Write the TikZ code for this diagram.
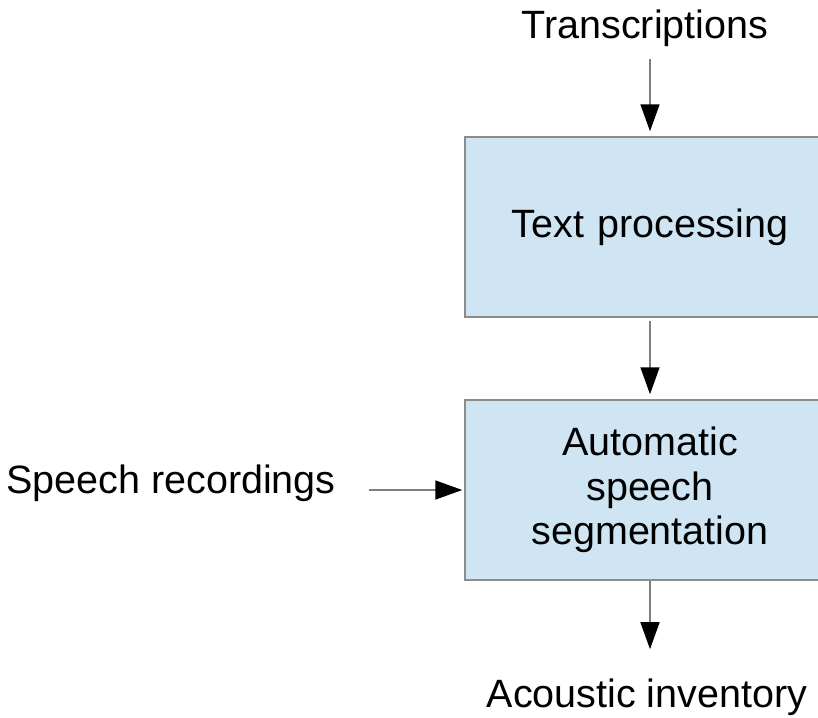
\documentclass[tikz,border=0pt]{standalone}
\usepackage{fontspec}
\setmainfont{Liberation Sans}
\usetikzlibrary{arrows.meta}
\definecolor{boxfill}{HTML}{CFE5F3}
\definecolor{boxline}{HTML}{8C8C8C}
\definecolor{flowline}{HTML}{7F7F7F}
\tikzset{
  stage/.style={draw=boxline, line width=1.5pt, fill=boxfill, minimum width=370pt,
    minimum height=180pt, inner sep=0pt, align=center, text width=360pt},
  label/.style={inner sep=0pt, anchor=base},
  flow/.style={draw=flowline, line width=1.6pt,
    -{Triangle[length=27pt,width=19pt,black]}},
}
\begin{document}
\begin{tikzpicture}[x=1pt,y=-1pt,font=\fontsize{39.5}{44.5}\selectfont]
  \useasboundingbox (0,0) rectangle (818,717);
  \clip (0,0) rectangle (818,717);
  % processing stages
  \node[stage] (tp)  at (650,227) {Text processing};
  \node[stage] (asr) at (650,490) {Automatic\\speech\\segmentation};
  % inputs and output
  \node[label] (trans) at (645,39)  {Transcriptions};
  \node[label] (spch)  at (171,493) {Speech recordings};
  \node[label] (inv)   at (647,707) {Acoustic inventory};
  % data flow
  \draw[flow, shorten <=12pt, shorten >=5pt] (trans.south -| tp.north) -- (tp.north);
  \draw[flow, shorten <=3pt, shorten >=5pt] (tp.south) -- (asr.north);
  \draw[flow, shorten >=29pt] (asr.south) -- (asr.south |- inv.north);
  \draw[flow, shorten <=33pt, shorten >=2pt] (spch.east |- asr.west) -- (asr.west);
\end{tikzpicture}
\end{document}
